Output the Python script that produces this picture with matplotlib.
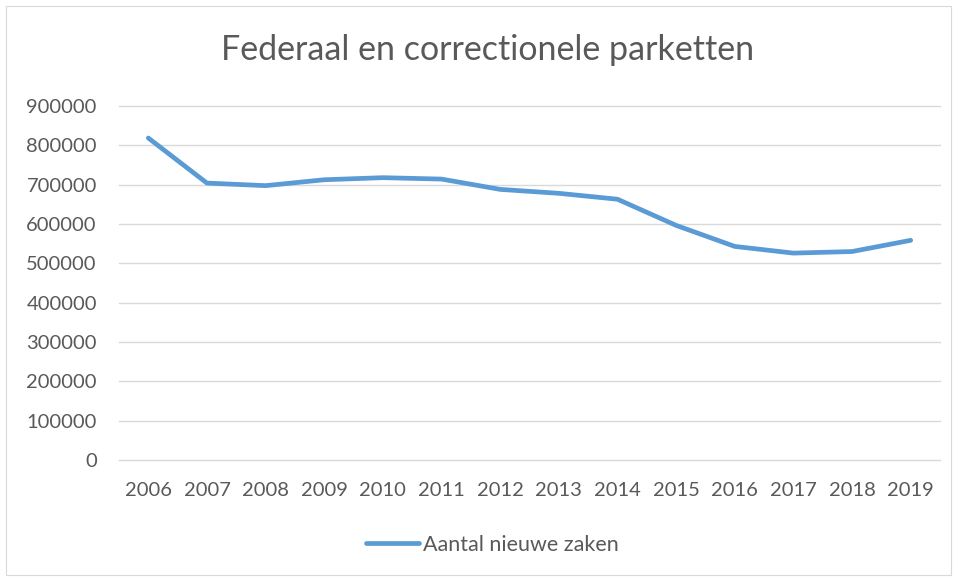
import matplotlib.pyplot as plt
from matplotlib.patches import Rectangle

# data
years = ["2006", "2007", "2008", "2009", "2010", "2011", "2012",
         "2013", "2014", "2015", "2016", "2017", "2018", "2019"]
nieuwe_zaken = [818600, 704000, 697500, 712500, 717800, 714200, 688000,
                678000, 663000, 596500, 543000, 526000, 530000, 558500]
y_ticks = [0, 100000, 200000, 300000, 400000, 500000, 600000, 700000, 800000, 900000]

text_col = "#595959"
line_col = "#5B9BD5"
font = ["Lato", "DejaVu Sans"]

fig = plt.figure(figsize=(9.57, 5.79), dpi=100)
fig.patches.append(Rectangle((6 / 957, 4 / 579), 945 / 957, 569 / 579, transform=fig.transFigure,
                             fill=False, edgecolor="#D9D9D9", linewidth=0.8))

ax = fig.add_axes([119 / 957, 1 - 460 / 579, 821 / 957, 354 / 579])
x = list(range(len(years)))
ax.plot(x, nieuwe_zaken, color=line_col, linewidth=3.4, solid_capstyle="round",
        solid_joinstyle="round", label="Aantal nieuwe zaken")

ax.set_xlim(-0.5, len(years) - 0.5)
ax.set_ylim(0, 900000)
ax.set_xticks(x)
ax.set_xticklabels(years)
ax.set_yticks(y_ticks)
ax.set_yticklabels([str(v) for v in y_ticks])
ax.yaxis.grid(True, color="#D9D9D9", linewidth=1.0)
for gl in ax.get_ygridlines():
    gl.set_clip_on(False)
ax.set_axisbelow(True)
for s in ax.spines.values():
    s.set_visible(False)
ax.tick_params(axis="both", length=0, labelsize=14.5, labelcolor=text_col)
ax.tick_params(axis="y", pad=16)
ax.tick_params(axis="x", pad=16)
for lab in ax.get_xticklabels() + ax.get_yticklabels():
    lab.set_family(font)

fig.text(488 / 957, 1 - 50 / 579, "Federaal en correctionele parketten", ha="center", va="center",
         fontsize=24.5, color=text_col, family=font)

fig.legend(loc="center", bbox_to_anchor=(492 / 957, 1 - 545 / 579), frameon=False,
           handlelength=2.5, handletextpad=0.15, prop={"family": font, "size": 15.5},
           labelcolor=text_col)

fig.savefig("out.png", dpi=100)
